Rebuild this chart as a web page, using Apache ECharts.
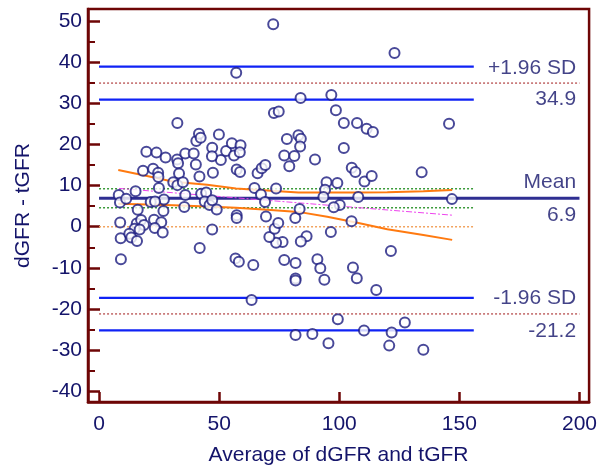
<!DOCTYPE html>
<html>
<head>
<meta charset="utf-8">
<script src="https://cdn.jsdelivr.net/npm/echarts@6/dist/echarts.min.js"></script>
<style>
  html, body { margin: 0; padding: 0; background: #fff; }
  #chart { width: 600px; height: 471px; }
</style>
</head>
<body>
<div id="chart"></div>
<script>
// 数据：平均值 (dGFR+tGFR)/2 与 差值 dGFR - tGFR
var avgGFR = [72.5, 123, 57.1, 83.9, 96.7, 98.6, 72.8, 74.8, 101.9, 107.4, 111.4, 114, 145.7, 101.9, 89.9,
  105.2, 106.7, 110.5, 113.5, 134.3, 94.7, 99.2, 94.1, 93.4, 107.9, 146.9, 100.2, 97.7, 105.1, 96.5,
  86.4, 84.0, 76.4, 73.7, 70.9, 73.1, 74.6, 81.7, 83.5, 69.5, 57.3, 57.3, 64.7, 67.4, 69.1,
  73.7, 66.0, 67.7, 69.2, 77.1, 81.3, 79.2, 78.2, 83.0, 84.0, 83.7, 57.3, 58.7, 50.7, 52.9,
  55.3, 56.2, 58.9, 58.6, 47.1, 47.0, 49.9, 40.5, 41.6, 42.3, 40.3, 41.8, 47.4, 32.6, 19.7,
  23.9, 27.7, 32.5, 32.9, 35.9, 39.4, 18.3, 22.5, 24.6, 24.7, 33.3, 30.9, 32.6, 34.9, 24.9,
  15.2, 8.2, 8.7, 11.3, 16.1, 27.0, 21.5, 23.3, 26.8, 35.9, 35.5, 42.5, 44.6, 44.0, 46.0,
  47.1, 49.0, 8.8, 15.7, 17.5, 18.7, 14.8, 16.9, 9.0, 12.6, 13.4, 15.8, 22.9, 25.9, 23.2,
  26.5, 47.1, 9.1, 41.9, 56.8, 58.2, 64.2, 63.5, 77.1, 81.8, 81.8, 81.8, 81.8, 88.8, 90.9,
  92.1, 93.8, 95.5, 99.4, 105.7, 107.3, 110.3, 115.4, 120.8, 121.5, 121.8, 127.3, 135.0];
var diffGFR = [49.2, 42.2, 37.4, 31.3, 32.0, 28.3, 27.6, 28.0, 25.2, 25.2, 23.8, 23.0, 25.0, 19.1, 16.3,
  14.3, 13.3, 11.0, 12.3, 13.2, 10.8, 10.6, 9.0, 7.2, 7.2, 6.7, 5.3, 4.7, 1.3, -1.3,
  -2.3, -3.6, -3.7, -3.9, -2.5, -0.5, 0.9, 2.1, 4.3, 2.5, 2.8, 2.1, 9.4, 7.8, 6.0,
  9.3, 13.0, 14.2, 15.0, 17.3, 17.2, 14.7, 21.3, 22.2, 21.4, 19.5, 13.9, 13.3, 16.2, 18.4,
  20.3, 17.3, 19.8, 18.1, 19.2, 17.1, 22.4, 20.8, 22.6, 21.6, 15.1, 12.2, 13.1, 25.2, 18.2,
  18.0, 16.8, 16.3, 15.4, 17.8, 17.8, 13.6, 14.1, 13.1, 12.1, 12.9, 10.8, 10.1, 10.8, 9.4,
  8.6, 7.7, 5.9, 6.8, 4.1, 6.6, 6.0, 6.1, 3.8, 7.7, 4.8, 8.0, 8.3, 6.1, 5.3,
  6.4, 4.2, 1.0, 0.8, 1.6, 0.4, -0.5, -0.7, -2.8, -1.7, -2.6, -3.5, 1.7, 1.1, -0.3,
  -1.4, -0.7, -7.9, -5.2, -7.7, -8.5, -9.3, -17.8, -8.1, -8.8, -12.6, -13.1, -26.3, -26.1, -7.9,
  -10.1, -12.9, -28.3, -22.5, -9.9, -12.5, -25.2, -15.4, -28.9, -5.9, -25.7, -23.3, -29.9];

// 均值、一致性界限及其置信区间
var meanDiff = 6.9;
var meanCI = [4.6, 9.2];
var upperLoA = 34.9;
var upperLoACI = [30.9, 38.9];
var lowerLoA = -21.2;
var lowerLoACI = [-25.2, -17.3];
var ciEndX = 156;
var fullEndX = 200;

// 回归线 (点划线) 与 置信带 (橙色)
var regX = [8.3, 147];
var regY = [9.3, 2.8];
var bandX = [8, 20, 31, 45, 57, 70, 83, 95, 108, 120, 135, 147];
var bandUpper = [13.8, 12.3, 10.9, 10.2, 9.3, 8.8, 8.3, 8.3, 8.3, 8.4, 8.6, 8.9];
var bandLower = [5.6, 5.4, 5.2, 4.9, 4.6, 4.1, 3.6, 2.4, 0.9, -0.6, -2.0, -3.2];

// 右侧文字
var labelTexts = ['+1.96 SD', '34.9', 'Mean', '6.9', '-1.96 SD', '-21.2'];
var labelY = [38.6, 31.0, 10.7, 2.9, -17.3, -25.3];
var labelX = 198.6;

// 刻度
var yTicks = [-40, -30, -20, -10, 0, 10, 20, 30, 40, 50];
var yMinorTicks = [-35, -25, -15, -5, 5, 15, 25, 35, 45];
var xTicks = [0, 50, 100, 150, 200];

var frameColor = '#6e0606';
var textColor = '#14146a';
var font = 'Liberation Sans, Arial, sans-serif';

function hline(y, x0, x1) {
  return [[x0, y], [x1, y]];
}
function lineSeries(data, color, width, type) {
  return {
    type: 'line', data: data, symbol: 'none', silent: true, z: 2,
    lineStyle: { color: color, width: width, type: type || 'solid' }
  };
}

var chart = echarts.init(document.getElementById('chart'));

var points = avgGFR.map(function (v, i) { return [v, diffGFR[i]]; });
var labelData = labelTexts.map(function (t, i) { return { value: [labelX, labelY[i]], name: t }; });

var series = [
  lineSeries(hline(0, 0, ciEndX), '#f2a35e', 1.5, [2, 2]),
  lineSeries(hline(meanCI[1], 0, ciEndX), '#3a9a3a', 1.5, [2, 2]),
  lineSeries(hline(meanCI[0], 0, ciEndX), '#3a9a3a', 1.5, [2, 2]),
  lineSeries(hline(upperLoA, 0, fullEndX), '#a01818', 1, [2, 2]),
  lineSeries(hline(lowerLoA, 0, fullEndX), '#a01818', 1, [2, 2]),
  lineSeries(hline(upperLoACI[1], 0, ciEndX), '#0f22f5', 2.2),
  lineSeries(hline(upperLoACI[0], 0, ciEndX), '#0f22f5', 2.2),
  lineSeries(hline(lowerLoACI[1], 0, ciEndX), '#0f22f5', 2.2),
  lineSeries(hline(lowerLoACI[0], 0, ciEndX), '#0f22f5', 2.2),
  lineSeries(hline(meanDiff, 0, fullEndX), '#2e2e92', 3),
  lineSeries(regX.map(function (v, i) { return [v, regY[i]]; }), '#ee44ee', 1, [6, 2, 2, 2]),
  lineSeries(bandX.map(function (v, i) { return [v, bandUpper[i]]; }), '#ff7a10', 2),
  lineSeries(bandX.map(function (v, i) { return [v, bandLower[i]]; }), '#ff7a10', 2),
  {
    type: 'scatter', data: points, symbol: 'emptyCircle', symbolSize: 10, z: 5,
    itemStyle: { color: '#1c1c80', borderWidth: 1.5 }
  },
  {
    type: 'scatter', data: labelData, symbolSize: 0, silent: true, z: 6,
    label: {
      show: true, position: 'inside', align: 'right', verticalAlign: 'middle',
      formatter: '{b}', color: textColor, fontSize: 21, fontFamily: font
    }
  }
];

var option = {
  backgroundColor: '#fff',
  animation: false,
  grid: {
    left: 88, right: 9, top: 9, bottom: 69,
    show: true, borderColor: frameColor, borderWidth: 2.5
  },
  xAxis: {
    type: 'value', min: -4.6, max: 204,
    name: 'Average of dGFR and tGFR', nameLocation: 'middle', nameGap: 43,
    nameTextStyle: { color: textColor, fontSize: 21, fontFamily: font },
    splitLine: { show: false },
    axisLine: { show: true, onZero: false, lineStyle: { color: frameColor, width: 2.5 } },
    axisTick: { show: true, inside: true, length: 10, customValues: xTicks, lineStyle: { color: frameColor, width: 2.5 } },
    axisLabel: { customValues: xTicks, margin: 12, color: textColor, fontSize: 21, fontFamily: font }
  },
  yAxis: [{
    type: 'value', min: -42.6, max: 52.9,
    name: 'dGFR - tGFR', nameLocation: 'middle', nameGap: 54,
    nameTextStyle: { color: textColor, fontSize: 21, fontFamily: font },
    splitLine: { show: false },
    axisLine: { show: true, onZero: false, lineStyle: { color: frameColor, width: 2.5 } },
    axisTick: { show: true, inside: true, length: 12, customValues: yTicks, lineStyle: { color: frameColor, width: 2.5 } },
    axisLabel: { customValues: yTicks, margin: 6, color: textColor, fontSize: 21, fontFamily: font }
  }, {
    type: 'value', min: -42.6, max: 52.9, position: 'left',
    splitLine: { show: false },
    axisLine: { show: false, onZero: false },
    axisTick: { show: true, inside: true, length: 7, customValues: yMinorTicks, lineStyle: { color: frameColor, width: 2 } },
    axisLabel: { show: false }
  }],
  series: series
};
chart.setOption(option);
</script>
</body>
</html>
